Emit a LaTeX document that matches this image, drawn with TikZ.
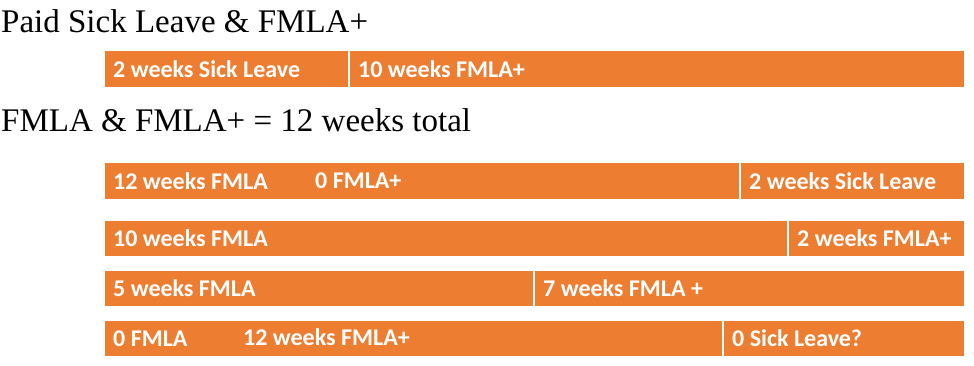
\documentclass[tikz,border=0pt]{standalone}
\usepackage{fontspec}
\setmainfont{Liberation Serif}
\newfontfamily\barfont{Carlito}
\usetikzlibrary{positioning}
\definecolor{barorange}{HTML}{ED7D31}

\begin{document}
\begin{tikzpicture}[x=1pt, y=-1pt,
    seg/.style={fill=barorange, draw=white, line width=1.5pt, minimum height=\barh, inner sep=0pt, anchor=north west},
    lbl/.style={text=white, font=\barfont\bfseries\fontsize{24}{28}\selectfont, inner sep=0pt},
    heading/.style={font=\fontsize{33}{40}\selectfont, inner sep=0pt, anchor=base west}]
    \def\barh{37pt}
    \def\gap{10pt}
    \useasboundingbox (0,0) rectangle (974,366);

    \node[heading] (paidtitle) at (1,33) {Paid Sick Leave \& FMLA+};

    \node[seg, minimum width=245pt] (sickA) at (103,50) {};
    \node[seg, minimum width=616pt] (plusA) at (348,50) {};
    \node[lbl, right=\gap of sickA.west] (sickAtxt) {2 weeks Sick Leave};
    \node[lbl, right=\gap of plusA.west] (plusAtxt) {10 weeks FMLA+};

    \node[heading] (totaltitle) at (1,132) {FMLA \& FMLA+ = 12 weeks total};

    % 12 + 0
    \node[seg, minimum width=636pt] (fmlaB) at (103,162) {};
    \node[seg, minimum width=225pt] (sickB) at (739,162) {};
    \node[lbl, right=\gap of fmlaB.west] (fmlaBtxt) {12 weeks FMLA};
    \node[lbl, anchor=west] (plusBtxt) at (315,180.5) {0 FMLA+};
    \node[lbl, right=\gap of sickB.west] (sickBtxt) {2 weeks Sick Leave};

    % 10 + 2
    \node[seg, minimum width=684pt] (fmlaC) at (103,219) {};
    \node[seg, minimum width=177pt] (plusC) at (787,219) {};
    \node[lbl, right=\gap of fmlaC.west] (fmlaCtxt) {10 weeks FMLA};
    \node[lbl, right=\gap of plusC.west] (plusCtxt) {2 weeks FMLA+};

    % 5 + 7
    \node[seg, minimum width=430pt] (fmlaD) at (103,269) {};
    \node[seg, minimum width=431pt] (plusD) at (533,269) {};
    \node[lbl, right=\gap of fmlaD.west] (fmlaDtxt) {5 weeks FMLA};
    \node[lbl, right=\gap of plusD.west] (plusDtxt) {7 weeks FMLA +};

    % 0 + 12
    \node[seg, minimum width=619pt] (fmlaE) at (103,319) {};
    \node[seg, minimum width=242pt] (sickE) at (722,319) {};
    \node[lbl, right=\gap of fmlaE.west] (fmlaEtxt) {0 FMLA};
    \node[lbl, anchor=west] (plusEtxt) at (243,337.5) {12 weeks FMLA+};
    \node[lbl, right=\gap of sickE.west] (sickEtxt) {0 Sick Leave?};
\end{tikzpicture}
\end{document}
